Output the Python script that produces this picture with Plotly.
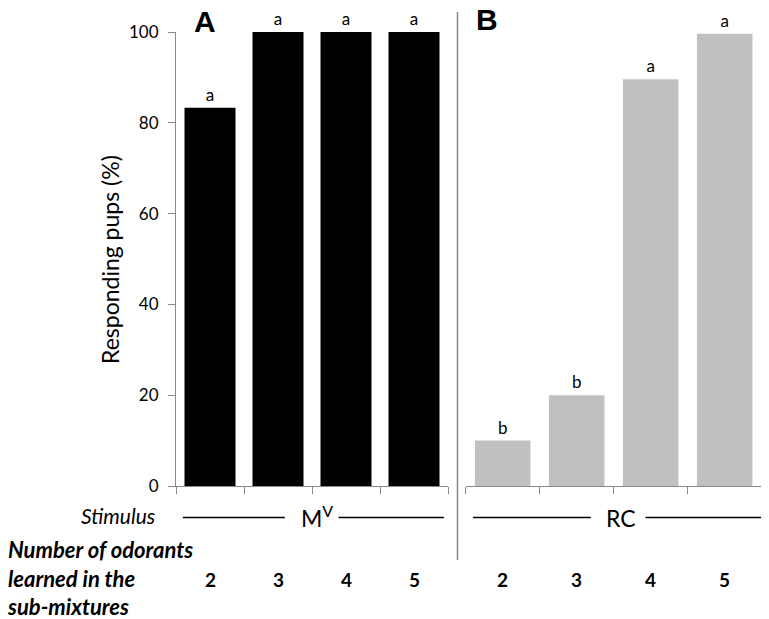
import plotly.graph_objects as go

categories = ["2", "3", "4", "5"]
mv_values = [83.3, 100, 100, 100]
rc_values = [10, 20, 89.6, 99.6]
mv_letters = ["a", "a", "a", "a"]
rc_letters = ["b", "b", "a", "a"]
y_ticks = [0, 20, 40, 60, 80, 100]

W, H = 769, 619
OFF = 8  # page body margin
FONT = "Lato, 'Open Sans', sans-serif"

def px(x):
    return (x - OFF) / W

def py(y):
    return (H - (y - OFF)) / H

fig = go.Figure()
fig.add_trace(go.Bar(x=categories, y=mv_values, marker_color="black", width=0.75,
                     text=mv_letters, textposition="outside", constraintext="none",
                     textfont=dict(size=17, color="black", family=FONT),
                     cliponaxis=False, xaxis="x", yaxis="y"))
fig.add_trace(go.Bar(x=categories, y=rc_values, marker_color="#c0c0c0", width=0.75,
                     text=rc_letters, textposition="outside", constraintext="none",
                     textfont=dict(size=17, color="black", family=FONT),
                     cliponaxis=False, xaxis="x2", yaxis="y2"))

ydom = [py(486), py(32)]
axis_common = dict(showgrid=False, zeroline=False, automargin=False)
fig.update_layout(
    template="none",
    width=W, height=H, margin=dict(l=0, r=0, t=0, b=0, autoexpand=False),
    plot_bgcolor="white", paper_bgcolor="white", showlegend=False,
    font=dict(family=FONT, color="black"),
    xaxis=dict(domain=[px(176), px(448)], type="category", range=[-0.5, 3.5],
               tickson="boundaries", ticks="outside", ticklen=7, tickcolor="#888",
               showticklabels=False, showline=True, linecolor="#888", linewidth=1,
               anchor="y", **axis_common),
    yaxis=dict(domain=ydom, range=[0, 100], tickvals=y_ticks, ticks="outside",
               ticklen=7, tickcolor="#888", showline=True, linecolor="#888",
               tickfont=dict(size=17, color="black"), ticklabelstandoff=6,
               anchor="x", **axis_common),
    xaxis2=dict(domain=[px(465.7), px(761.7)], type="category", range=[-0.5, 3.5],
                tickson="boundaries", ticks="outside", ticklen=7, tickcolor="#888",
                showticklabels=False, showline=True, linecolor="#888", linewidth=1,
                anchor="y2", **axis_common),
    yaxis2=dict(domain=ydom, range=[0, 100], showticklabels=False, showline=False,
                ticks="", anchor="x2", **axis_common),
    bargap=0.25,
)

def note(text, x, y, xref="paper", size=20, xanchor="center", **kw):
    return dict(text=text, x=x, y=y, xref=xref, yref="paper", xanchor=xanchor,
                yanchor="middle", showarrow=False, font=dict(size=size, **kw.pop("font", {})), **kw)

ann = []
ann.append(note("Responding pups (%)", px(110), py(260), size=23, textangle=-90))
ann.append(note("<b>A</b>", px(205), py(21), size=30, font=dict(family="Liberation Sans, Arial")))
ann.append(note("<b>B</b>", px(487), py(20), size=30, font=dict(family="Liberation Sans, Arial")))
ann.append(note("<i>Stimulus</i>", px(157), py(515), size=21, xanchor="right"))
ann.append(note("<b><i>Number of odorants<br>learned in the<br>sub-mixtures</i></b>",
                px(5), py(578), size=22, xanchor="left", align="left"))
ann.append(note("M<sup>V</sup>", 1.57, py(516), xref="x", size=23))
ann.append(note("RC", 1.6, py(518), xref="x2", size=23))
for i, c in enumerate(categories):
    for xr in ["x", "x2"]:
        ann.append(note(f"<b>{c}</b>", i, py(579), xref=xr, size=19))
fig.update_layout(annotations=ann)

shapes = []
ly = py(517.5)
for xr, segs in [("x", [(-0.4, 1.1), (1.89, 3.44)]), ("x2", [(-0.4, 1.19), (1.93, 3.52)])]:
    for a, b in segs:
        shapes.append(dict(type="line", xref=xr, yref="paper", x0=a, x1=b, y0=ly, y1=ly,
                           line=dict(color="black", width=1.3)))
shapes.append(dict(type="line", xref="paper", yref="paper", x0=px(457.5), x1=px(457.5),
                   y0=py(560), y1=py(12), line=dict(color="#888", width=1.5)))
fig.update_layout(shapes=shapes)

fig.write_html("out.html")
